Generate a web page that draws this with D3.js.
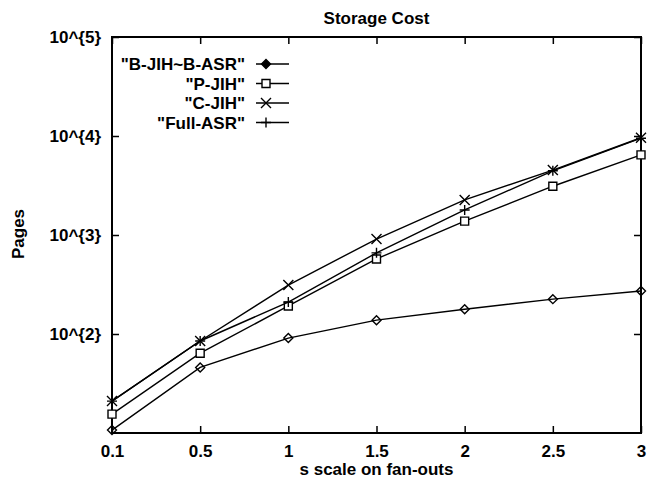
<!DOCTYPE html>
<html>
<head>
<meta charset="utf-8">
<script src="https://cdn.jsdelivr.net/npm/d3@7"></script>
<style>
  body { margin: 0; background: #fff; }
  text { font-family: "Liberation Sans", Arial, sans-serif; font-weight: bold; fill: #000; }
</style>
</head>
<body>
<svg id="vis"></svg>
<script>
// data
var scales = ["0.1", "0.5", "1", "1.5", "2", "2.5", "3"];
var bJih = [10.7, 46, 91, 138, 178, 225, 272];
var pJih = [15.5, 64, 192, 573, 1380, 3110, 6440];
var cJih = [21, 85, 312, 910, 2260, 4530, 9600];
var fullAsr = [21, 85, 210, 660, 1790, 4450, 9500];
var seriesNames = ['"B-JIH~B-ASR"', '"P-JIH"', '"C-JIH"', '"Full-ASR"'];
var seriesMarks = ["diamond", "square", "cross", "plus"];
var yTicks = [100, 1000, 10000, 100000];

var width = 649, height = 483;
var plotLeft = 112, plotRight = 641, plotTop = 37, plotBottom = 433;

var svg = d3.select("#vis").attr("width", width).attr("height", height);

var x = d3.scalePoint().domain(scales).range([plotLeft, plotRight]);
var y = d3.scaleLog().domain([10, 100000]).range([plotBottom, plotTop]);

// frame
svg.append("rect")
    .attr("x", plotLeft).attr("y", plotTop)
    .attr("width", plotRight - plotLeft).attr("height", plotBottom - plotTop)
    .attr("fill", "none").attr("stroke", "#000").attr("stroke-width", 2);

function styleAxis(g) {
    g.select(".domain").remove();
    g.selectAll(".tick line").attr("stroke", "#000").attr("stroke-width", 1.5);
    g.selectAll(".tick text").style("font-size", "17px")
        .style("font-family", '"Liberation Sans", Arial, sans-serif').style("font-weight", "bold");
}

svg.append("g").attr("transform", "translate(" + plotLeft + ",0)")
    .call(d3.axisLeft(y).tickValues(yTicks).tickSizeInner(-7).tickSizeOuter(0).tickPadding(11)
        .tickFormat(function(d){ return "10^{" + Math.round(Math.log10(d)) + "}"; }))
    .call(styleAxis);

svg.append("g").attr("transform", "translate(" + plotRight + ",0)")
    .call(d3.axisRight(y).tickValues(yTicks).tickSizeInner(-7).tickSizeOuter(0).tickFormat(""))
    .call(styleAxis);

svg.append("g").attr("transform", "translate(0," + plotBottom + ")")
    .call(d3.axisBottom(x).tickSizeInner(-7).tickSizeOuter(0).tickPadding(12))
    .call(styleAxis);

svg.append("g").attr("transform", "translate(0," + plotTop + ")")
    .call(d3.axisTop(x).tickSizeInner(-7).tickSizeOuter(0).tickFormat(""))
    .call(styleAxis);

// titles
svg.append("text").attr("x", (plotLeft + plotRight) / 2).attr("y", 24)
    .attr("text-anchor", "middle").style("font-size", "17px").text("Storage Cost");
svg.append("text").attr("x", (plotLeft + plotRight) / 2).attr("y", 475)
    .attr("text-anchor", "middle").style("font-size", "17px").text("s scale on fan-outs");
svg.append("text").attr("transform", "translate(24,234) rotate(-90)")
    .attr("text-anchor", "middle").style("font-size", "17px").text("Pages");

// marker shapes
function markPath(kind) {
    if (kind == "diamond") return "M0,-4.5L4.5,0L0,4.5L-4.5,0Z";
    if (kind == "square") return "M-4,-4H4V4H-4Z";
    if (kind == "cross") return "M-5,-5L5,5M-5,5L5,-5";
    return "M-5,0H5M0,-5V5";
}
function markFill(kind) {
    if (kind == "square") return "#fff";
    return "none";
}

var allSeries = [bJih, pJih, cJih, fullAsr];
var line = d3.line()
    .x(function(d, i){ return x(scales[i]); })
    .y(function(d){ return y(d); });

allSeries.forEach(function(vals, s) {
    svg.append("path").datum(vals)
        .attr("d", line)
        .attr("fill", "none").attr("stroke", "#000").attr("stroke-width", 1.4);
    svg.append("g").selectAll("path")
        .data(vals)
        .enter()
        .append("path")
        .attr("transform", function(d, i){ return "translate(" + x(scales[i]) + "," + y(d) + ")"; })
        .attr("d", markPath(seriesMarks[s]))
        .attr("fill", markFill(seriesMarks[s]))
        .attr("stroke", "#000").attr("stroke-width", 1.4);
});

// legend
var legend = svg.append("g");
seriesNames.forEach(function(name, i) {
    var ly = 64 + i * 19.5;
    legend.append("text").attr("x", 245).attr("y", ly + 6)
        .attr("text-anchor", "end").style("font-size", "17px").text(name);
    legend.append("line").attr("x1", 256).attr("x2", 289).attr("y1", ly).attr("y2", ly)
        .attr("stroke", "#000").attr("stroke-width", 1.4);
    legend.append("path").attr("transform", "translate(266," + ly + ")")
        .attr("d", markPath(seriesMarks[i]))
        .attr("fill", i == 0 ? "#000" : markFill(seriesMarks[i]))
        .attr("stroke", "#000").attr("stroke-width", 1.4);
});
</script>
</body>
</html>
